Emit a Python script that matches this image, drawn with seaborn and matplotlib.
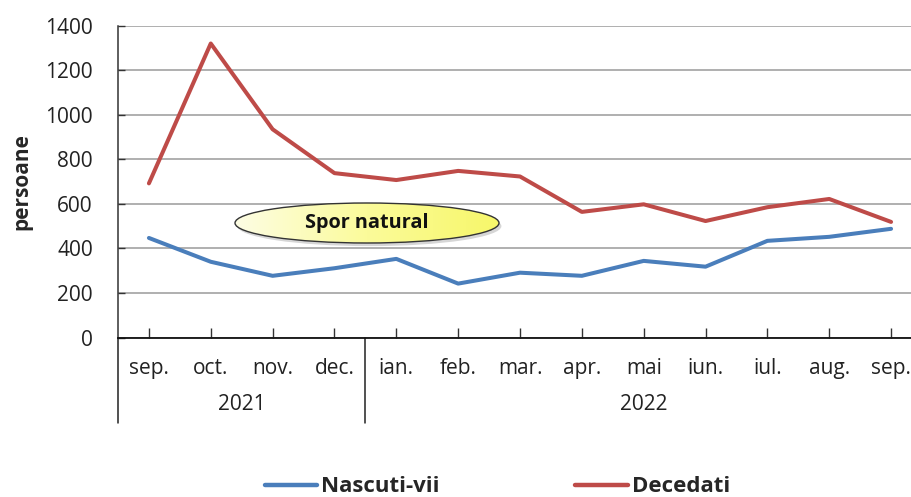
import numpy as np
import pandas as pd
import matplotlib
matplotlib.use("Agg")
import matplotlib.pyplot as plt
import seaborn as sns
from matplotlib.patches import Ellipse
from matplotlib.lines import Line2D
from matplotlib.colors import LinearSegmentedColormap
import matplotlib.transforms as mtransforms

months = ["sep.", "oct.", "nov.", "dec.", "ian.", "feb.", "mar.", "apr.", "mai", "iun.", "iul.", "aug.", "sep."]
years = ["2021", "2022"]
year_spans = [(0, 3), (4, 12)]
nascuti = [447, 340, 277, 311, 353, 242, 291, 277, 344, 318, 434, 452, 488]
decedati = [692, 1320, 935, 738, 707, 748, 723, 564, 598, 523, 585, 622, 519]
series_names = ["Nascuti-vii", "Decedati"]
colors = ["#4a7ebb", "#be4b48"]
yticks = [0, 200, 400, 600, 800, 1000, 1200, 1400]

sns.set_style("white")
plt.rcParams["font.family"] = ["Open Sans", "DejaVu Sans"]

df = pd.DataFrame({
    "idx": list(range(len(months))) * 2,
    "val": nascuti + decedati,
    "serie": [series_names[0]] * len(months) + [series_names[1]] * len(months),
})

fig = plt.figure(figsize=(9.11, 4.97), dpi=100)
W, H = 911, 497
x0, x1, ytop, ybot = 118, 922, 25.7, 337.5
ax = fig.add_axes([x0 / W, (H - ybot) / H, (x1 - x0) / W, (ybot - ytop) / H])

sns.lineplot(data=df, x="idx", y="val", hue="serie", palette=colors, ax=ax,
             linewidth=2.9, legend=False, zorder=3)

ax.set_xlim(-0.5, len(months) - 0.5)
ax.set_ylim(0, 1400)
ax.set_yticks(yticks)
ax.set_yticklabels([str(v) for v in yticks], fontsize=15, color="#222222")
ax.grid(axis="y", color="#9a9a9a", linewidth=1.1, zorder=0)
ax.grid(axis="x", visible=False)
for s in ["top", "right"]:
    ax.spines[s].set_visible(False)
ax.spines["left"].set_color("#333333")
ax.spines["bottom"].set_color("#111111")
ax.spines["left"].set_linewidth(1.1)
ax.spines["bottom"].set_linewidth(1.3)
ax.tick_params(axis="y", direction="in", length=5, width=1, color="#333333", pad=18, left=True)
ax.set_xticks(range(len(months)))
ax.set_xticklabels(months, fontsize=15, color="#222222")
ax.tick_params(axis="x", direction="in", length=7, width=1, color="#333333", pad=15, bottom=True)
ax.set_xlabel("")
ax.set_ylabel("persoane", fontsize=15, fontweight="bold", labelpad=9)

# year labels and separators
trans = mtransforms.blended_transform_factory(ax.transData, ax.transAxes)
ysep = -(423 - ybot) / (ybot - ytop)
for (a, b), yr in zip(year_spans, years):
    ax.text((a + b) / 2, -(405 - ybot) / (ybot - ytop), yr, transform=trans,
            ha="center", va="center", fontsize=15, color="#222222")
for xs in [-0.5, 3.5]:
    ax.add_line(Line2D([xs, xs], [0, ysep], transform=trans, color="#222222",
                       linewidth=1.1, clip_on=False))

# ellipse annotation
cx, cy = (367 - x0) / (x1 - x0), (ybot - 223) / (ybot - ytop)
ew, eh = 264 / (x1 - x0), 40 / (ybot - ytop)
shadow = Ellipse((cx + 0.003, cy - 0.01), ew, eh, transform=ax.transAxes,
                 facecolor="#bbbbbb", edgecolor="none", alpha=0.6, zorder=4)
ax.add_patch(shadow)
ell = Ellipse((cx, cy), ew, eh, transform=ax.transAxes, facecolor="none",
              edgecolor="#333333", linewidth=1.0, zorder=6)
grad = np.linspace(0, 1, 256).reshape(1, -1)
cmap = LinearSegmentedColormap.from_list("yel", ["#fdfde4", "#fbfb9a", "#f7f76a"])
im = ax.imshow(grad, cmap=cmap, aspect="auto", extent=[cx - ew / 2, cx + ew / 2, cy - eh / 2, cy + eh / 2],
               transform=ax.transAxes, zorder=5)
clip = Ellipse((cx, cy), ew, eh, transform=ax.transAxes, facecolor="none", edgecolor="none")
ax.add_patch(clip)
im.set_clip_path(clip)
ax.add_patch(ell)
ax.text(cx, cy, "Spor natural", transform=ax.transAxes, ha="center", va="center",
        fontsize=14.3, fontweight="bold", color="#111111", zorder=7)
ax.set_xlim(-0.5, len(months) - 0.5)
ax.set_ylim(0, 1400)

# legend
handles = [Line2D([0], [0], color=c, linewidth=3.2) for c in colors]
fig.legend(handles, series_names, loc="center", bbox_to_anchor=(0.546, 1 - 487 / H),
           ncol=2, frameon=False, prop={"weight": "bold", "size": 16},
           handlelength=2.35, handletextpad=0.18, columnspacing=6.1)

fig.savefig("out.png", dpi=100)
